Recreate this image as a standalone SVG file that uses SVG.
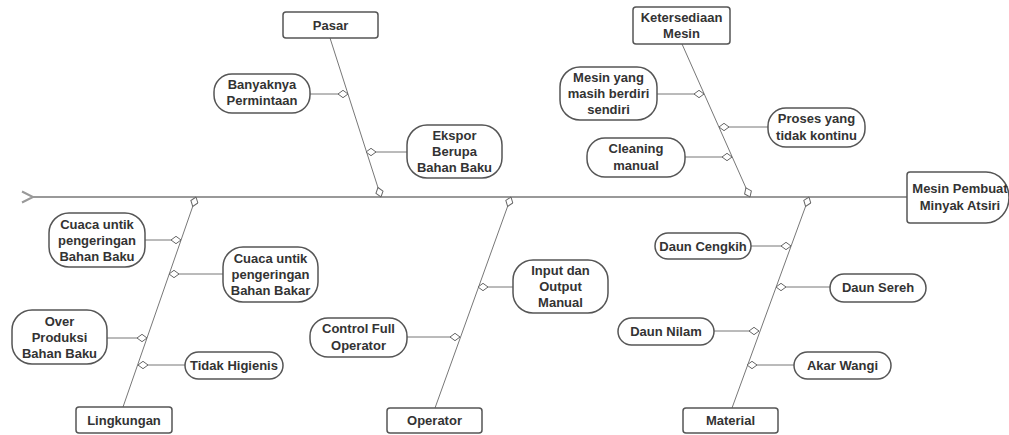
<svg xmlns="http://www.w3.org/2000/svg" width="1009" height="435" viewBox="0 0 1009 435">
<style>
.box{fill:#fff;stroke:#555;stroke-width:1.5}
.t{font-family:"Liberation Sans",Arial,sans-serif;font-size:13px;font-weight:bold;fill:#333;text-anchor:middle;dominant-baseline:central}
.bone{stroke:#777;stroke-width:1;fill:none;marker-end:url(#dia)}
.spine{stroke:#999;stroke-width:2;fill:none}
</style>
<defs>
<marker id="dia" markerUnits="userSpaceOnUse" viewBox="0 0 11 9" markerWidth="11" markerHeight="9" refX="10.5" refY="4.5" orient="auto">
<path d="M0.5,4.5 L5.5,0.8 L10.5,4.5 L5.5,8.2 Z" fill="#fff" stroke="#666" stroke-width="1"/>
</marker>
</defs>
<rect width="1009" height="435" fill="#fff"/>
<g id="connectors">
<line class="spine" x1="33" y1="197" x2="907" y2="197"/>
<polyline class="spine" points="22,191.5 33,197 22,202.5" stroke-width="1.5"/>
<line class="bone" x1="330" y1="38" x2="381" y2="197"/>
<line class="bone" x1="682" y1="44" x2="750" y2="197"/>
<line class="bone" x1="123" y1="407" x2="196" y2="197"/>
<line class="bone" x1="435" y1="408" x2="511" y2="197"/>
<line class="bone" x1="732" y1="408" x2="809" y2="197"/>
<line class="bone" x1="310" y1="94" x2="348" y2="94"/>
<line class="bone" x1="407" y1="152" x2="366" y2="152"/>
<line class="bone" x1="657" y1="94" x2="704" y2="94"/>
<line class="bone" x1="768" y1="127" x2="719" y2="127"/>
<line class="bone" x1="685" y1="157" x2="732" y2="157"/>
<line class="bone" x1="145" y1="240" x2="181" y2="240"/>
<line class="bone" x1="223" y1="274" x2="169" y2="274"/>
<line class="bone" x1="107" y1="338" x2="147" y2="338"/>
<line class="bone" x1="185" y1="365" x2="138" y2="365"/>
<line class="bone" x1="513" y1="287" x2="478" y2="287"/>
<line class="bone" x1="407" y1="337" x2="460" y2="337"/>
<line class="bone" x1="751" y1="246" x2="791" y2="246"/>
<line class="bone" x1="830" y1="287" x2="776" y2="287"/>
<line class="bone" x1="714" y1="331" x2="759" y2="331"/>
<line class="bone" x1="794" y1="365" x2="747" y2="365"/>
</g>
<g id="head">
<path class="box" d="M910,172 H986 A23,25.5 0 0 1 1009,197.5 A23,25.5 0 0 1 986,223 H910 Q907,223 907,220 V175 Q907,172 910,172 Z"/>
<text class="t" x="960" y="188">Mesin Pembuat</text>
<text class="t" x="960" y="205">Minyak Atsiri</text>
</g>
<g id="pasar"><rect class="box" x="283" y="12" width="95" height="26" rx="3"/><text class="t" x="330.5" y="25">Pasar</text></g>
<g id="ketersediaan"><rect class="box" x="633" y="7" width="97" height="37" rx="3"/><text class="t" x="681.5" y="17.5">Ketersediaan</text><text class="t" x="681.5" y="33.5">Mesin</text></g>
<g id="lingkungan"><rect class="box" x="76" y="407" width="96" height="26" rx="3"/><text class="t" x="124" y="420">Lingkungan</text></g>
<g id="operator"><rect class="box" x="387" y="408" width="95" height="25" rx="3"/><text class="t" x="434.5" y="420.5">Operator</text></g>
<g id="material"><rect class="box" x="683" y="408" width="95" height="25" rx="3"/><text class="t" x="730.5" y="420.5">Material</text></g>
<g id="banyaknya"><rect class="box" x="214" y="74" width="96" height="39" rx="18"/><text class="t" x="262" y="84.5">Banyaknya</text><text class="t" x="262" y="100.5">Permintaan</text></g>
<g id="ekspor"><rect class="box" x="407" y="125" width="95" height="53" rx="20"/><text class="t" x="454.5" y="135.5">Ekspor</text><text class="t" x="454.5" y="151.5">Berupa</text><text class="t" x="454.5" y="167.5">Bahan Baku</text></g>
<g id="mesin-yang"><rect class="box" x="560" y="67" width="97" height="53" rx="20"/><text class="t" x="608.5" y="77.5">Mesin yang</text><text class="t" x="608.5" y="93.5">masih berdiri</text><text class="t" x="608.5" y="109.5">sendiri</text></g>
<g id="proses"><rect class="box" x="768" y="108" width="97" height="39" rx="18"/><text class="t" x="816.5" y="118.5">Proses yang</text><text class="t" x="816.5" y="135.5">tidak kontinu</text></g>
<g id="cleaning"><rect class="box" x="587" y="138" width="98" height="39" rx="18"/><text class="t" x="636" y="148">Cleaning</text><text class="t" x="636" y="165">manual</text></g>
<g id="cuaca-baku"><rect class="box" x="49" y="213" width="96" height="54" rx="20"/><text class="t" x="97" y="224">Cuaca untik</text><text class="t" x="97" y="240">pengeringan</text><text class="t" x="97" y="256">Bahan Baku</text></g>
<g id="cuaca-bakar"><rect class="box" x="223" y="247" width="95" height="55" rx="20"/><text class="t" x="270.5" y="258">Cuaca untik</text><text class="t" x="270.5" y="274">pengeringan</text><text class="t" x="270.5" y="290">Bahan Bakar</text></g>
<g id="over"><rect class="box" x="12" y="310" width="95" height="54" rx="20"/><text class="t" x="59.5" y="321">Over</text><text class="t" x="59.5" y="337">Produksi</text><text class="t" x="59.5" y="353">Bahan Baku</text></g>
<g id="tidak"><rect class="box" x="185" y="352" width="98" height="27" rx="13.5"/><text class="t" x="234" y="365.5">Tidak Higienis</text></g>
<g id="input"><rect class="box" x="513" y="260" width="95" height="53" rx="20"/><text class="t" x="560.5" y="270">Input dan</text><text class="t" x="560.5" y="286">Output</text><text class="t" x="560.5" y="302">Manual</text></g>
<g id="control"><rect class="box" x="310" y="318" width="97" height="39" rx="18"/><text class="t" x="358.5" y="328.5">Control Full</text><text class="t" x="358.5" y="345.5">Operator</text></g>
<g id="cengkih"><rect class="box" x="655" y="233" width="96" height="26" rx="13"/><text class="t" x="703" y="246">Daun Cengkih</text></g>
<g id="sereh"><rect class="box" x="830" y="274" width="96" height="28" rx="14"/><text class="t" x="878" y="287.5">Daun Sereh</text></g>
<g id="nilam"><rect class="box" x="618" y="318" width="96" height="27" rx="13.5"/><text class="t" x="666" y="331.5">Daun Nilam</text></g>
<g id="akar"><rect class="box" x="794" y="352" width="97" height="27" rx="13.5"/><text class="t" x="842.5" y="365.5">Akar Wangi</text></g>
</svg>
